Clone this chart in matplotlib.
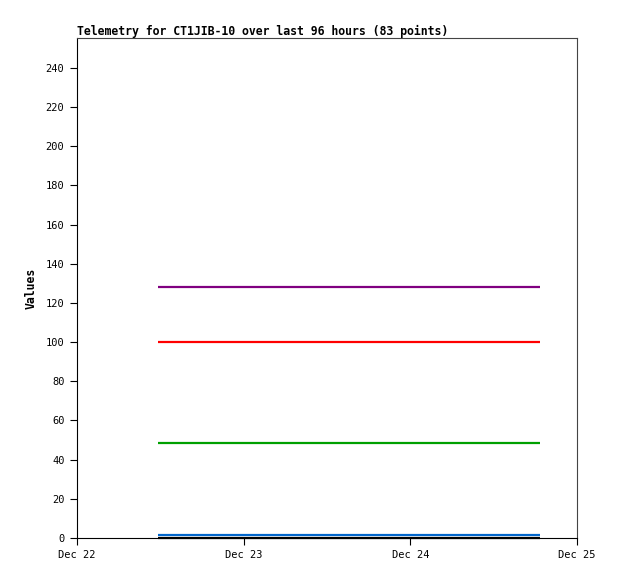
import matplotlib
matplotlib.use("Agg")
import matplotlib.pyplot as plt
import numpy as np

# Data (x in days since Dec 22 00:00)
x_tick_labels = ["Dec 22", "Dec 23", "Dec 24", "Dec 25"]
x_tick_pos = [0, 1, 2, 3]
t_start = 0.487
t_end = 2.775
series_names = ["s_purple", "s_red", "s_green", "s_blue", "s_black"]
series_values = [128, 100, 48.5, 1.5, 0]
series_colors = ["#800080", "#ff0000", "#00a000", "#0066cc", "#000000"]
y_ticks = [0, 20, 40, 60, 80, 100, 120, 140, 160, 180, 200, 220, 240]

W, H = 618, 579
fig = plt.figure(figsize=(W / 100, H / 100), dpi=100)
ax = fig.add_axes([77 / W, (H - 538) / H, 500 / W, 500 / H])

mono = "DejaVu Sans Mono"
order = [4, 3, 2, 1, 0]
for i in order:
    v = series_values[i]
    ax.plot([t_start, t_end], [v, v], color=series_colors[i], lw=1.6,
            solid_capstyle="butt", clip_on=False, zorder=3)

ax.set_xlim(0, 3)
ax.set_ylim(0, 255.3)
ax.set_xticks(x_tick_pos)
ax.set_xticklabels(x_tick_labels, fontfamily=mono, fontsize=7.5)
ax.set_yticks(y_ticks)
ax.set_yticklabels([str(v) for v in y_ticks], fontfamily=mono, fontsize=7.5)
ax.tick_params(axis="both", direction="out", length=5, width=0.8, color="black", pad=4)

for s in ["left", "bottom"]:
    ax.spines[s].set_color("black")
    ax.spines[s].set_linewidth(0.8)
for s in ["top", "right"]:
    ax.spines[s].set_color("#444444")
    ax.spines[s].set_linewidth(0.8)

ax.set_title("Telemetry for CT1JIB-10 over last 96 hours (83 points)", loc="left",
             fontfamily=mono, fontsize=8.3, fontweight="bold", pad=2.5)
ax.set_ylabel("Values", fontfamily=mono, fontsize=8.3, fontweight="bold", labelpad=6)

fig.savefig("out.png", dpi=100)
